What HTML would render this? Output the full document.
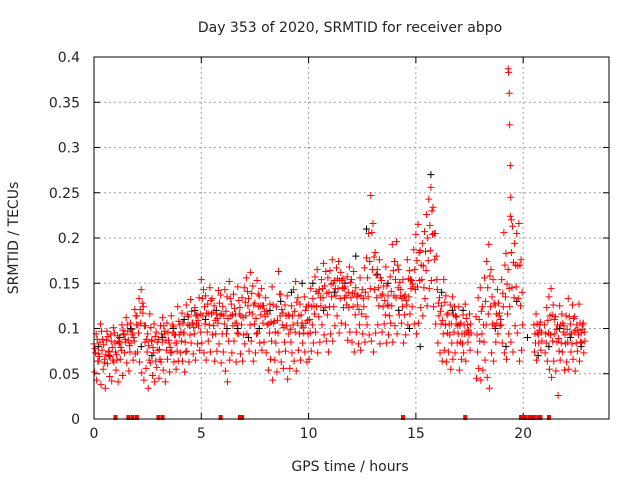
<!DOCTYPE html>
<html><head><meta charset="utf-8"><style>
body{margin:0;background:#fff;width:640px;height:480px;overflow:hidden}
svg{display:block;font-family:"DejaVu Sans","Liberation Sans",sans-serif}
</style></head><body>
<svg id="chart" width="640" height="480" xmlns="http://www.w3.org/2000/svg"></svg>
<script>
const xTicks=[0,5,10,15,20];
const yTicks=[0,0.05,0.1,0.15,0.2,0.25,0.3,0.35,0.4];
const yTickLabels=["0","0.05","0.1","0.15","0.2","0.25","0.3","0.35","0.4"];
const N=null;
const seriesHigh=[.083,.094,.072,.105,.088,.066,.097,.075,.086,.101,.074,.092,.085,.104,.093,.112,.087,.106,.095,.121,.114,.133,.143,.124,.103,.094,.116,.087,.105,.096,.088,.103,.112,.097,.106,.084,.114,.102,.093,.124,.104,.117,.095,.126,.113,.132,.106,.123,.115,.134,.154,.143,.136,.127,.145,.133,.125,.116,.142,.137,.124,.143,.135,.152,.127,.138,.116,.146,.123,.134,.145,.156,.133,.162,.147,.128,.153,.136,.144,.125,.134,.116,.127,.146,.108,.124,.163,.138,.117,.126,.136,.114,.125,.143,.152,.134,.127,.106,.135,.124,.126,.144,.133,.157,.165,.143,.154,.172,.163,.156,.164,.176,.153,.167,.174,.162,.155,.146,.157,.168,.154,.163,.145,.137,.156,.143,.167,.178,.205,.247,.216,.184,.165,.176,.153,.147,.168,.136,.157,.193,.174,.196,.165,.143,.154,.137,.176,.164,.153,.187,.204,.215,.186,.194,.207,.226,.243,.256,.234,.205,.143,.134,.125,.154,.136,.117,.126,.135,.124,.113,.124,.106,.115,.127,.104,.116,N,N,.113,.134,.145,.124,.156,.174,.193,.165,.154,.126,.143,.117,.154,.206,.183,.165,.224,.213,.194,.205,.216,.176,N,N,N,N,N,.104,.116,.093,.107,N,.104,.123,.135,.144,.126,.113,.104,.125,.116,.103,.114,.133,.105,.126,.113,.104,.127,.095,.106,N];
const seriesUpperMid=[.078,.088,.069,.097,.082,.071,.091,.069,.079,.095,.071,.086,.079,.098,.088,.104,.081,.099,.09,.114,.104,.121,.128,.103,.088,.081,.101,.079,.091,.085,.077,.094,.103,.087,.096,.079,.104,.093,.084,.108,.096,.106,.085,.115,.103,.119,.101,.114,.109,.116,.133,.124,.117,.116,.131,.118,.109,.111,.128,.116,.114,.119,.111,.133,.115,.122,.106,.131,.114,.112,.129,.141,.118,.139,.126,.111,.138,.125,.125,.119,.119,.105,.107,.126,.096,.109,.138,.121,.101,.114,.115,.099,.114,.119,.129,.114,.115,.101,.12,.109,.11,.124,.125,.141,.139,.134,.144,.147,.139,.14,.149,.15,.144,.155,.153,.153,.144,.136,.14,.151,.139,.139,.135,.121,.136,.133,.14,.156,.174,.206,.179,.159,.145,.156,.138,.131,.147,.125,.141,.164,.154,.17,.151,.133,.135,.131,.155,.154,.149,.165,.175,.184,.17,.169,.185,.2,.214,.23,.205,.18,.128,.119,.109,.129,.115,.105,.105,.115,.114,.103,.104,.094,.104,.111,.098,.105,N,N,.093,.11,.119,.104,.13,.145,.158,.135,.128,.116,.128,.11,.139,.17,.149,.144,.184,.173,.17,.169,.17,.14,N,N,N,N,N,.094,.105,.098,.096,N,.094,.109,.114,.115,.11,.099,.089,.104,.106,.093,.099,.113,.094,.111,.098,.098,.106,.099,.096,N];
const seriesLow=[.052,.043,.064,.038,.055,.034,.061,.047,.042,.063,.054,.041,.066,.048,.073,.062,.053,.084,.065,.072,.074,.063,.051,.043,.056,.034,.062,.048,.041,.057,.045,.063,.054,.041,.066,.052,.074,.063,.055,.064,.073,.064,.052,.075,.063,.084,.072,.065,.083,.076,.084,.073,.065,.086,.074,.093,.064,.075,.083,.062,.074,.053,.041,.065,.073,.086,.063,.094,.072,.064,.083,.094,.075,.086,.064,.073,.095,.084,.076,.085,.073,.054,.066,.043,.065,.052,.074,.063,.056,.075,.044,.056,.073,.064,.053,.076,.065,.084,.074,.063,.066,.075,.084,.096,.073,.085,.104,.093,.086,.074,.094,.086,.103,.114,.095,.106,.123,.104,.087,.096,.085,.074,.096,.083,.076,.094,.085,.104,.093,.086,.074,.095,.104,.083,.096,.105,.084,.093,.106,.085,.103,.094,.115,.106,.084,.093,.104,.116,.124,.105,.094,.106,.123,.114,.133,.125,.144,.153,.124,.105,.084,.073,.064,.076,.063,.074,.055,.066,.073,.084,.054,.066,.073,.064,.085,.076,N,N,.045,.056,.043,.054,.065,.046,.034,.073,.064,.085,.094,.103,.084,.073,.066,.094,.085,.074,.103,.095,.064,.076,N,N,N,N,N,.074,.065,.084,.076,N,.073,.064,.055,.046,.064,.053,.026,.065,.074,.054,.063,.055,.074,.066,.053,.075,.064,.084,.073,N];
const seriesMid=[.073,.064,.085,.076,.062,.087,.074,.093,.065,.084,.065,.083,.076,.094,.085,.097,.074,.093,.086,.104,.095,.106,.117,.085,.074,.065,.086,.073,.064,.076,.066,.085,.094,.076,.087,.073,.095,.084,.075,.093,.086,.095,.074,.104,.093,.106,.094,.105,.103,.096,.114,.105,.096,.104,.116,.103,.094,.106,.115,.094,.105,.094,.086,.114,.103,.106,.095,.116,.104,.093,.114,.125,.104,.116,.105,.094,.124,.115,.106,.113,.104,.095,.086,.106,.084,.095,.114,.104,.085,.103,.094,.085,.104,.096,.106,.094,.103,.095,.106,.094,.095,.104,.116,.124,.113,.125,.134,.123,.115,.124,.135,.124,.136,.144,.133,.145,.134,.126,.123,.134,.124,.115,.126,.104,.116,.124,.113,.135,.144,.165,.143,.134,.125,.136,.124,.115,.126,.114,.125,.136,.134,.145,.136,.124,.115,.126,.135,.144,.146,.143,.146,.153,.154,.145,.164,.175,.186,.204,.176,.154,.114,.105,.094,.104,.095,.093,.084,.096,.105,.094,.085,.083,.094,.096,.093,.095,N,N,.074,.086,.094,.085,.104,.116,.124,.105,.103,.106,.114,.104,.124,.135,.116,.124,.145,.134,.146,.133,.125,.104,N,N,N,N,N,.084,.095,.104,.086,N,.084,.095,.093,.086,.094,.085,.075,.084,.096,.083,.085,.094,.083,.096,.084,.093,.085,.104,.086,N];
const spikeTimes=[19.3,19.32,19.35,19.37,19.4,19.42,19.45];
const spikeValues=[.387,.383,.36,.325,.28,.245,.22];
const blackValues=[.08,.07,.09,.1,.08,.07,.09,.1,.11,.12,.11,.12,.1,.1,.09,.1,.12,.13,.14,.15,.15,.12,.14,.15,.18,.21,.16,.15,.12,.1,.08,.27,.14,.12,.12,N,N,.1,.08,.13,.09,.07,.08,.1,.09,.08];
const zeroTimes=[1.0,1.6,1.8,2.0,3.0,3.2,5.9,6.8,6.9,14.4,17.3,19.9,20.0,20.1,20.3,20.4,20.5,20.7,20.8,21.2];

const L=94,R=609,T=57,B=419,XMAX=24,YMAX=0.4;
const xs=v=>L+v/XMAX*(R-L);
const ys=v=>B-v/YMAX*(B-T);
const svg=document.getElementById('chart');
const NS='http://www.w3.org/2000/svg';
function mk(tag,attrs,parent){const e=document.createElementNS(NS,tag);for(const k in attrs)e.setAttribute(k,attrs[k]);(parent||svg).appendChild(e);return e;}

const grid=mk('g',{stroke:'#a0a0a0','stroke-width':1,'stroke-dasharray':'2,3'});


xTicks.forEach(v=>{if(v>0)mk('line',{x1:xs(v),x2:xs(v),y1:T,y2:B},grid);});
yTicks.forEach(v=>{if(v>0&&v<YMAX)mk('line',{x1:L,x2:R,y1:ys(v),y2:ys(v)},grid);});

const ticks=mk('g',{stroke:'#000','stroke-width':1});


xTicks.forEach(v=>{mk('line',{x1:xs(v),x2:xs(v),y1:B,y2:B-6},ticks);mk('line',{x1:xs(v),x2:xs(v),y1:T,y2:T+6},ticks);});
yTicks.forEach(v=>{mk('line',{x1:L,x2:L+6,y1:ys(v),y2:ys(v)},ticks);mk('line',{x1:R,x2:R-6,y1:ys(v),y2:ys(v)},ticks);});

const xl=mk('g',{'font-size':14,'text-anchor':'middle',fill:'#222'});


xTicks.forEach(v=>{const t=mk('text',{x:xs(v),y:B+19},xl);t.textContent=v;});
const yl=mk('g',{'font-size':14,'text-anchor':'end',fill:'#222'});


yTicks.forEach((v,i)=>{const t=mk('text',{x:L-14,y:ys(v)+5},yl);t.textContent=yTickLabels[i];});

function plus(g,x,y){mk('path',{d:`M${x-3.5} ${y}h7M${x} ${y-3.5}v7`},g);}
const blk=mk('g',{stroke:'#000','stroke-width':1,fill:'none'});


blackValues.forEach((v,i)=>{if(v!=null)plus(blk,xs(0.2+0.5*i),ys(v));});

const red=mk('g',{stroke:'#ff0000','stroke-width':1,fill:'none'});


[[seriesHigh,0],[seriesLow,0.025],[seriesUpperMid,0.05],[seriesMid,0.075]].forEach(([arr,off])=>{
  arr.forEach((v,i)=>{if(v!=null)plus(red,xs(i*0.1+off),ys(v));});
});
spikeTimes.forEach((t,i)=>plus(red,xs(t),ys(spikeValues[i])));
const zr=mk('g',{fill:'#ff0000'});


zeroTimes.forEach(t=>mk('rect',{x:xs(t)-2,y:B-4,width:4,height:5},zr));

const frame=mk('rect',{x:L,y:T,width:R-L,height:B-T,fill:'none',stroke:'#000','stroke-width':1});



const title=mk('text',{x:350,y:32,'font-size':14,'text-anchor':'middle',fill:'#222'});
title.textContent='Day 353 of 2020, SRMTID for receiver abpo';


const xt=mk('text',{x:350,y:471,'font-size':14,'text-anchor':'middle',fill:'#222'});
xt.textContent='GPS time / hours';


const yt=mk('text',{x:0,y:0,'font-size':14,'text-anchor':'middle',fill:'#222',transform:'translate(18,238) rotate(-90)'});
yt.textContent='SRMTID / TECUs';


</script>
</body></html>
